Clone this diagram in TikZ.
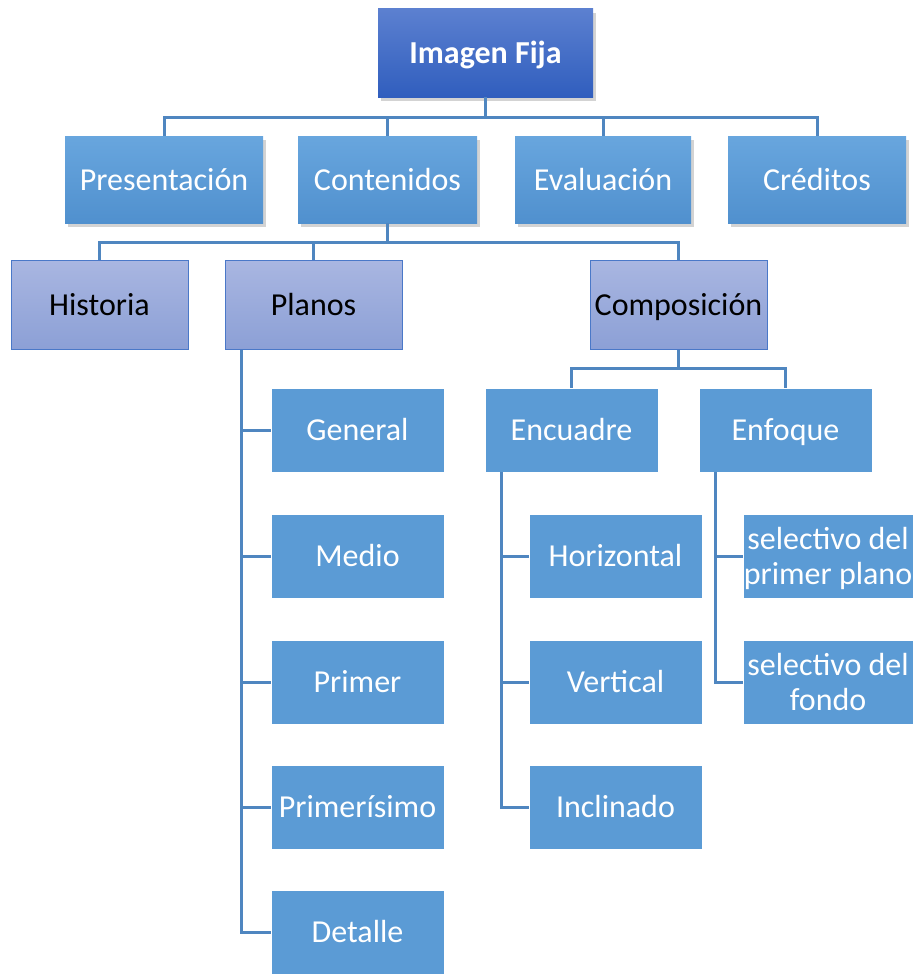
\documentclass[tikz,border=0pt]{standalone}
\usepackage{fontspec}
\setmainfont{Carlito}
\usetikzlibrary{shadows}

\definecolor{linkblue}{HTML}{4F86C0}
\definecolor{leafblue}{HTML}{5B9BD5}
\definecolor{fijatop}{HTML}{5C80D0}
\definecolor{fijabot}{HTML}{305EBE}
\definecolor{sectop}{HTML}{68A6DE}
\definecolor{secbot}{HTML}{5090CE}
\definecolor{lavtop}{HTML}{A9B6E1}
\definecolor{lavbot}{HTML}{8CA0D6}
\definecolor{lavline}{HTML}{4A78C8}

\begin{document}
\begin{tikzpicture}[x=1pt, y=-1pt,
	box/.style={rectangle, inner sep=0pt, align=center, text height=24pt, text depth=3pt, font=\fontsize{32}{35}\selectfont},
	topbox/.style={box, minimum width=215pt, minimum height=88pt, top color=fijatop, bottom color=fijabot, text=white, font=\fontsize{32}{35}\selectfont\bfseries, drop shadow={opacity=0.35, shadow xshift=3pt, shadow yshift=-4pt}},
	secbox/.style={box, minimum height=87pt, top color=sectop, bottom color=secbot, text=white, drop shadow={opacity=0.35, shadow xshift=3pt, shadow yshift=-4pt}},
	thirdbox/.style={box, minimum width=177pt, minimum height=89pt, top color=lavtop, bottom color=lavbot, draw=lavline, line width=1pt, text=black},
	leaf/.style={box, minimum width=173pt, minimum height=84pt, fill=leafblue, draw=white, line width=0.6pt, text=white},
	twoline/.style={leaf, minimum width=170pt, text height=59pt},
	link/.style={draw=linkblue, line width=3pt}]

	\useasboundingbox (0,0) rectangle (913,974);

	% level 1 and 2
	\node[topbox] (fija) at (485.5,53) {Imagen Fija};
	\node[secbox, minimum width=198pt] (pres) at (164,179.5) {Presentación};
	\node[secbox, minimum width=179pt] (cont) at (387.5,179.5) {Contenidos};
	\node[secbox, minimum width=176pt] (eval) at (603,179.5) {Evaluación};
	\node[secbox, minimum width=178pt] (cred) at (817,179.5) {Créditos};

	% level 3
	\node[thirdbox] (hist) at (99.5,304.5) {Historia};
	\node[thirdbox] (planos) at (313.5,304.5) {Planos};
	\node[thirdbox] (comp) at (678.5,304.5) {Composición};

	% planos
	\node[leaf] (general) at (357.5,430) {General};
	\node[leaf] (medio) at (357.5,556) {Medio};
	\node[leaf] (primer) at (357.5,682) {Primer};
	\node[leaf] (primerisimo) at (357.5,807) {Primerísimo};
	\node[leaf] (detalle) at (357.5,932) {Detalle};

	% composicion
	\node[leaf] (encuadre) at (571.5,430) {Encuadre};
	\node[leaf] (enfoque) at (785.5,430) {Enfoque};
	\node[leaf] (horiz) at (615.5,556) {Horizontal};
	\node[leaf] (vert) at (615.5,682) {Vertical};
	\node[leaf] (incl) at (615.5,807) {Inclinado};
	\node[twoline] (selprim) at (828,556) {selectivo del\\primer plano};
	\node[twoline] (selfondo) at (828,682) {selectivo del\\fondo};

	% connectors
	\draw[link] (fija.south) -- ++(0,20) -| (pres.north);
	\draw[link] (fija.south) -- ++(0,20) -| (cont.north);
	\draw[link] (fija.south) -- ++(0,20) -| (eval.north);
	\draw[link] (fija.south) -- ++(0,20) -| (cred.north);

	\draw[link] (cont.south) -- ++(0,19) -| (hist.north);
	\draw[link] (cont.south) -- ++(0,19) -| (planos.north);
	\draw[link] (cont.south) -- ++(0,19) -| (comp.north);

	\draw[link] (comp.south) -- ++(0,19) -| (encuadre.north);
	\draw[link] (comp.south) -- ++(0,19) -| (enfoque.north);

	\coordinate (pbus) at ([xshift=17pt]planos.south west);
	\draw[link] (pbus) |- (general.west);
	\draw[link] (pbus) |- (medio.west);
	\draw[link] (pbus) |- (primer.west);
	\draw[link] (pbus) |- (primerisimo.west);
	\draw[link] (pbus) |- (detalle.west);

	\coordinate (ebus) at ([xshift=17pt]encuadre.south west);
	\draw[link] (ebus) |- (horiz.west);
	\draw[link] (ebus) |- (vert.west);
	\draw[link] (ebus) |- (incl.west);

	\coordinate (fbus) at ([xshift=17pt]enfoque.south west);
	\draw[link] (fbus) |- (selprim.west);
	\draw[link] (fbus) |- (selfondo.west);
\end{tikzpicture}
\end{document}
